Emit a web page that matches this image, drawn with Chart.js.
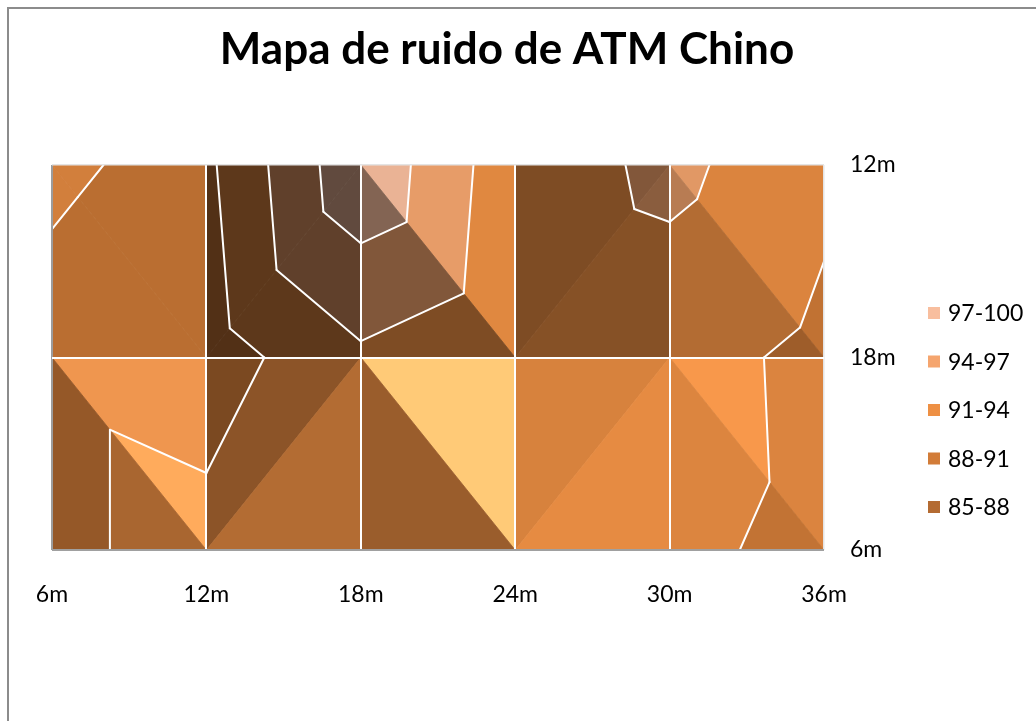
<!DOCTYPE html>
<html>
<head>
<meta charset="utf-8">
<script src="https://cdn.jsdelivr.net/npm/chart.js@4"></script>
<style>
  html, body { margin: 0; padding: 0; background: #ffffff; }
  canvas { display: block; }
</style>
</head>
<body>
<canvas id="mapa" width="1036" height="721"></canvas>
<script>
// Measurement grid: distance along the ATM (m) and the three measurement lines
const columnsM = [6, 12, 18, 24, 30, 36];
const xTickLabels = ['6m', '12m', '18m', '24m', '30m', '36m'];
const rowTickLabels = ['12m', '18m', '6m'];

// Noise level (dB) measured on each line, one value per column
const noise12m = [91.3, 90.4, 99.4, 92.0, 94.8, 91.7];
const noise18m = [90.4, 89.5, 93.5, 91.3, 92.1, 90.3];
const noise6m  = [90.4, 92.0, 92.3, 93.6, 91.5, 90.4];

// Contour bands
const bandLabels = ['85-88', '88-91', '91-94', '94-97', '97-100'];
const bandLimits = [85, 88, 91, 94, 97, 100];
const bandColors = ['#B46B32', '#D27C38', '#EE9044', '#F5A56E', '#F8BE9E'];

const rows = [noise12m, noise18m, noise6m];
const nodes = rows.flatMap((vals, r) =>
  vals.map((v, c) => ({ x: columnsM[c], y: r, v: v, row: r, col: c })));

// Lighting of the surface facets (view from above)
const LIGHT = { amb: 0.39, dir: [0.39, -0.31, 0.50], relief: 0.25, gloss: 2.0 };

function hexRgb(h) {
  const n = parseInt(h.slice(1), 16);
  return [(n >> 16) & 255, (n >> 8) & 255, n & 255];
}
function shade(hex, I) {
  const w = 255 * LIGHT.gloss * Math.max(0, I - 1);
  const c = hexRgb(hex).map(ch => Math.round(Math.min(255, ch * I + w)));
  return 'rgb(' + c.join(',') + ')';
}
function facetIntensity(tri) {
  const P = tri.map(n => [n.col, n.row, LIGHT.relief * n.v]);
  const u = [P[1][0] - P[0][0], P[1][1] - P[0][1], P[1][2] - P[0][2]];
  const w = [P[2][0] - P[0][0], P[2][1] - P[0][1], P[2][2] - P[0][2]];
  let N = [u[1] * w[2] - u[2] * w[1], u[2] * w[0] - u[0] * w[2], u[0] * w[1] - u[1] * w[0]];
  if (N[2] < 0) N = N.map(a => -a);
  const len = Math.hypot(N[0], N[1], N[2]);
  N = N.map(a => a / len);
  const d = LIGHT.dir;
  return LIGHT.amb + Math.max(0, N[0] * d[0] + N[1] * d[1] + N[2] * d[2]);
}
function clipPoly(poly, level, keepAbove) {
  const out = [];
  const inside = p => keepAbove ? p.v >= level : p.v <= level;
  for (let i = 0; i < poly.length; i++) {
    const A = poly[i], B = poly[(i + 1) % poly.length];
    const inA = inside(A), inB = inside(B);
    if (inA !== inB) {
      const t = (level - A.v) / (B.v - A.v);
      const X = { px: A.px + t * (B.px - A.px), py: A.py + t * (B.py - A.py), v: level };
      if (inB) { out.push(X); out.push(B); } else { out.push(X); }
    } else if (inB) {
      out.push(B);
    }
  }
  return out;
}

const surfacePlugin = {
  id: 'noiseSurface',
  beforeDatasetsDraw(chart) {
    const { ctx, chartArea: area, scales } = chart;
    const grid = [];
    chart.data.datasets[0].data.forEach(n => {
      (grid[n.row] = grid[n.row] || [])[n.col] = {
        col: n.col, row: n.row, v: n.v,
        px: scales.x.getPixelForValue(n.x), py: scales.y.getPixelForValue(n.y)
      };
    });
    const tris = [];
    for (let r = 0; r < grid.length - 1; r++) {
      for (let c = 0; c < grid[r].length - 1; c++) {
        const TL = grid[r][c], TR = grid[r][c + 1], BL = grid[r + 1][c], BR = grid[r + 1][c + 1];
        if (c % 2 === 0) { tris.push([TL, TR, BR], [TL, BR, BL]); }
        else { tris.push([TL, TR, BL], [TR, BR, BL]); }
      }
    }
    ctx.save();
    ctx.beginPath();
    ctx.rect(area.left, area.top, area.right - area.left, area.bottom - area.top);
    ctx.clip();
    ctx.lineJoin = 'round';
    // filled bands, lit per facet
    tris.forEach(tri => {
      const I = facetIntensity(tri);
      for (let k = 0; k < bandColors.length; k++) {
        let poly = clipPoly(tri, bandLimits[k], true);
        if (poly.length < 3) continue;
        poly = clipPoly(poly, bandLimits[k + 1], false);
        if (poly.length < 3) continue;
        const col = shade(bandColors[k], I);
        ctx.beginPath();
        poly.forEach((p, i) => i ? ctx.lineTo(p.px, p.py) : ctx.moveTo(p.px, p.py));
        ctx.closePath();
        ctx.fillStyle = col;
        ctx.strokeStyle = col;
        ctx.lineWidth = 0.8;
        ctx.fill();
        ctx.stroke();
      }
    });
    // contour lines
    ctx.strokeStyle = '#ffffff';
    ctx.lineWidth = 2;
    ctx.lineCap = 'round';
    tris.forEach(tri => {
      bandLimits.forEach(L => {
        const pts = [];
        for (let i = 0; i < 3; i++) {
          const A = tri[i], B = tri[(i + 1) % 3];
          if ((A.v - L) * (B.v - L) < 0) {
            const t = (L - A.v) / (B.v - A.v);
            pts.push([A.px + t * (B.px - A.px), A.py + t * (B.py - A.py)]);
          }
        }
        if (pts.length === 2) {
          ctx.beginPath();
          ctx.moveTo(pts[0][0], pts[0][1]);
          ctx.lineTo(pts[1][0], pts[1][1]);
          ctx.stroke();
        }
      });
    });
    ctx.restore();
  }
};

const framePlugin = {
  id: 'chartFrame',
  beforeDraw(chart) {
    const { ctx } = chart;
    ctx.save();
    ctx.fillStyle = '#ffffff';
    ctx.fillRect(0, 0, chart.width, chart.height);
    ctx.strokeStyle = '#8c8c8c';
    ctx.lineWidth = 2;
    ctx.strokeRect(8, 8, chart.width + 20, chart.height + 20);
    ctx.restore();
  }
};

const legendPlugin = {
  id: 'bandLegend',
  afterDraw(chart) {
    const { ctx } = chart;
    ctx.save();
    ctx.font = '23px Lato';
    ctx.textBaseline = 'middle';
    ctx.textAlign = 'left';
    for (let i = 0; i < bandLabels.length; i++) {
      const k = bandLabels.length - 1 - i;
      const cy = 313 + i * 48.5;
      ctx.fillStyle = bandColors[k];
      ctx.fillRect(928, cy - 6, 12, 12);
      ctx.fillStyle = '#000000';
      ctx.fillText(bandLabels[k], 948, cy + 1);
    }
    ctx.restore();
  }
};

function edgeColor(ctx, first, last, inner) {
  if (ctx.index === 0) return first;
  if (ctx.index === ctx.chart.scales[ctx.scale.id].ticks.length - 1) return last;
  return inner;
}

function build() {
  new Chart(document.getElementById('mapa'), {
    type: 'scatter',
    data: {
      datasets: [{
        label: 'Nivel de ruido (dB)',
        data: nodes,
        pointRadius: 0,
        pointHoverRadius: 0,
        showLine: false
      }]
    },
    plugins: [framePlugin, surfacePlugin, legendPlugin],
    options: {
      responsive: false,
      animation: false,
      devicePixelRatio: 1,
      layout: { padding: { left: 52, right: 74, top: 0, bottom: 0 } },
      plugins: {
        legend: { display: false },
        tooltip: { enabled: false },
        title: {
          display: true,
          text: 'Mapa de ruido de ATM Chino',
          color: '#000000',
          font: { family: 'Lato', size: 44, weight: 'bold', lineHeight: 1.2 },
          padding: { top: 23, bottom: 89.2 }
        }
      },
      scales: {
        x: {
          type: 'linear',
          position: 'bottom',
          min: 6, max: 36,
          afterFit(scale) { scale.height = 171; },
          border: { display: false },
          grid: {
            z: 1,
            drawTicks: false,
            color: ctx => edgeColor(ctx, '#9c9c9c', '#e4e4e4', '#ffffff'),
            lineWidth: ctx => edgeColor(ctx, 2, 1.5, 2)
          },
          ticks: {
            stepSize: 6,
            padding: 31,
            color: '#000000',
            font: { family: 'Lato', size: 23 },
            callback: (v) => xTickLabels[columnsM.indexOf(v)]
          }
        },
        y: {
          type: 'linear',
          position: 'right',
          min: 0, max: 2,
          reverse: true,
          afterFit(scale) { scale.width = 138; },
          border: { display: false },
          grid: {
            z: 1,
            drawTicks: false,
            color: ctx => edgeColor(ctx, '#a0a0a0', '#e4e4e4', '#ffffff'),
            lineWidth: ctx => edgeColor(ctx, 2, 1.5, 2)
          },
          ticks: {
            stepSize: 1,
            padding: 26,
            color: '#000000',
            font: { family: 'Lato', size: 23 },
            callback: (v) => rowTickLabels[v]
          }
        }
      }
    }
  });
}

if (document.fonts && document.fonts.load) {
  Promise.all([document.fonts.load('bold 44px Lato'), document.fonts.load('23px Lato')])
    .then(build, build);
} else {
  build();
}
</script>
</body>
</html>
